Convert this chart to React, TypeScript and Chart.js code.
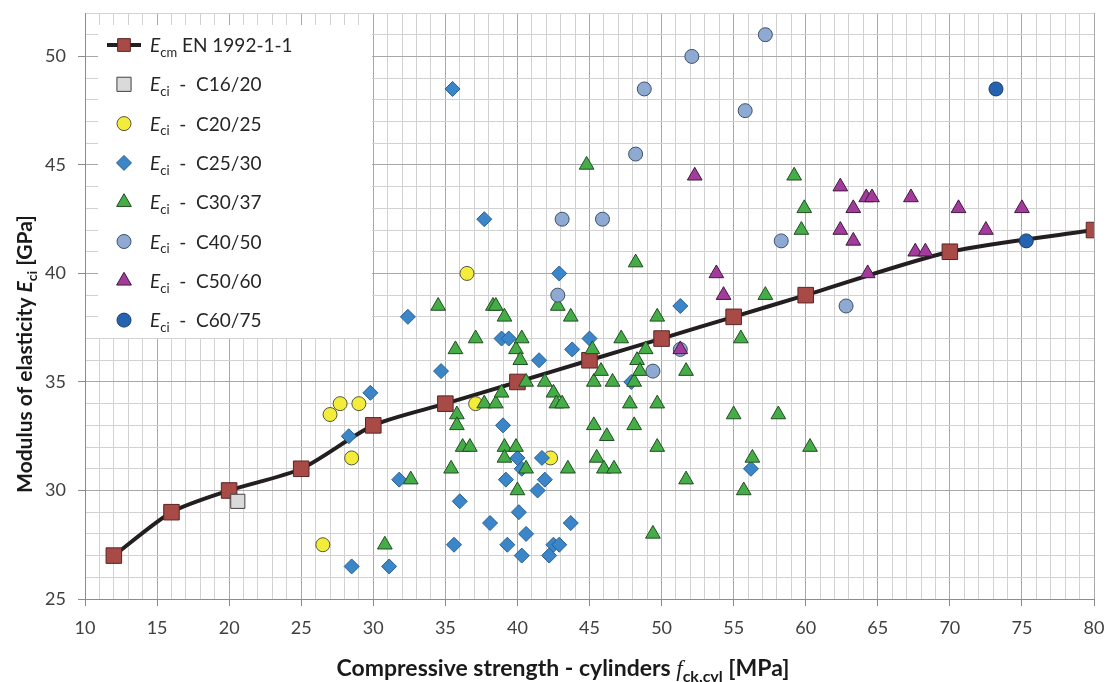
import React, { useEffect, useRef } from 'react';
import { Chart, registerables } from 'chart.js';

Chart.register(...registerables);

// ---------------- data ----------------
const xTickLabels = [10, 15, 20, 25, 30, 35, 40, 45, 50, 55, 60, 65, 70, 75, 80];
const yTickLabels = [25, 30, 35, 40, 45, 50];

const ecmX = [12, 16, 20, 25, 30, 35, 40, 45, 50, 55, 60, 70, 80];
const ecmY = [27, 29, 30, 31, 33, 34, 35, 36, 37, 38, 39, 41, 42];

const c1620X = [20.6];
const c1620Y = [29.5];

const c2025X = [26.5, 27.0, 27.7, 28.5, 29.0, 36.5, 37.1, 42.3];
const c2025Y = [27.5, 33.5, 34, 31.5, 34, 40, 34, 31.5];

const c2530X = [28.3, 28.5, 29.8, 31.1, 31.8, 32.4, 34.7, 35.5, 35.6, 36.0, 37.7, 38.1, 38.9, 39.0, 39.2, 39.3, 39.4, 40.0, 40.1, 40.3, 40.3, 40.6, 41.4, 41.5, 41.7, 41.9, 42.2, 42.5, 42.9, 42.9, 43.7, 43.8, 45.0, 47.9, 51.3, 56.2];
const c2530Y = [32.5, 26.5, 34.5, 26.5, 30.5, 38, 35.5, 48.5, 27.5, 29.5, 42.5, 28.5, 37, 33, 30.5, 27.5, 37, 31.5, 29, 31, 27, 28, 30, 36, 31.5, 30.5, 27, 27.5, 27.5, 40, 28.5, 36.5, 37, 35, 38.5, 31];

const c3037X = [30.8, 32.6, 34.5, 35.4, 35.7, 35.8, 35.8, 36.2, 36.7, 37.1, 37.7, 38.3, 38.5, 38.5, 38.9, 39.1, 39.1, 39.1, 39.9, 39.9, 40.0, 40.2, 40.3, 40.6, 40.6, 41.9, 42.5, 42.7, 42.8, 43.1, 43.5, 43.7, 44.8, 45.2, 45.3, 45.3, 45.5, 45.8, 46.0, 46.2, 46.6, 46.7, 47.2, 47.8, 48.1, 48.1, 48.2, 48.3, 48.5, 48.9, 49.4, 49.7, 49.7, 49.7, 51.7, 51.7, 55.0, 55.5, 55.7, 56.3, 57.2, 58.1, 59.2, 59.7, 59.9, 60.3];
const c3037Y = [27.5, 30.5, 38.5, 31, 36.5, 33.5, 33, 32, 32, 37, 34, 38.5, 38.5, 34, 34.5, 38, 32, 31.5, 36.5, 32, 30, 36, 37, 35, 31, 35, 34.5, 34, 38.5, 34, 31, 38, 45, 36.5, 35, 33, 31.5, 35.5, 31, 32.5, 35, 31, 37, 34, 35, 33, 40.5, 36, 35.5, 36.5, 28, 38, 34, 32, 35.5, 30.5, 33.5, 37, 30, 31.5, 39, 33.5, 44.5, 42, 43, 32];

const c4050X = [42.8, 43.1, 45.9, 48.2, 48.8, 49.4, 51.3, 52.1, 55.8, 57.2, 58.3, 62.8];
const c4050Y = [39, 42.5, 42.5, 45.5, 48.5, 35.5, 36.5, 50, 47.5, 51, 41.5, 38.5];

const c5060X = [51.3, 52.3, 53.8, 54.3, 62.4, 62.4, 63.3, 63.3, 64.2, 64.6, 64.3, 67.3, 67.6, 68.3, 70.6, 72.5, 75.0];
const c5060Y = [36.5, 44.5, 40, 39, 44, 42, 43, 41.5, 43.5, 43.5, 40, 43.5, 41, 41, 43, 42, 43];

const c6075X = [73.2, 75.3];
const c6075Y = [48.5, 41.5];

// ---------------- styling ----------------
const FONT = "Lato, 'Open Sans', sans-serif";
const SERIF = "'Liberation Serif', 'DejaVu Serif', serif";

type Seg = { t: string; i?: boolean; sub?: boolean; b?: boolean; fam?: string };

const series = [
  { key: 'ecm', label: [{ t: 'E', i: true }, { t: 'cm', sub: true }, { t: ' EN 1992-1-1' }] as Seg[], xs: ecmX, ys: ecmY, style: 'rect', r: 11, fill: '#a84a46', stroke: '#5a2624', line: true },
  { key: 'c1620', label: [{ t: 'E', i: true }, { t: 'ci', sub: true }, { t: '  -  C16/20' }] as Seg[], xs: c1620X, ys: c1620Y, style: 'rect', r: 10, fill: '#dadada', stroke: '#404040', line: false },
  { key: 'c2025', label: [{ t: 'E', i: true }, { t: 'ci', sub: true }, { t: '  -  C20/25' }] as Seg[], xs: c2025X, ys: c2025Y, style: 'circle', r: 7, fill: '#f3ec3a', stroke: '#55553a', line: false },
  { key: 'c2530', label: [{ t: 'E', i: true }, { t: 'ci', sub: true }, { t: '  -  C25/30' }] as Seg[], xs: c2530X, ys: c2530Y, style: 'rectRot', r: 7.5, fill: '#3a86c8', stroke: '#2b5f91', line: false },
  { key: 'c3037', label: [{ t: 'E', i: true }, { t: 'ci', sub: true }, { t: '  -  C30/37' }] as Seg[], xs: c3037X, ys: c3037Y, style: 'triangle', r: 8.5, fill: '#44ad47', stroke: '#234d22', line: false },
  { key: 'c4050', label: [{ t: 'E', i: true }, { t: 'ci', sub: true }, { t: '  -  C40/50' }] as Seg[], xs: c4050X, ys: c4050Y, style: 'circle', r: 7, fill: '#8eaad2', stroke: '#3f4f66', line: false },
  { key: 'c5060', label: [{ t: 'E', i: true }, { t: 'ci', sub: true }, { t: '  -  C50/60' }] as Seg[], xs: c5060X, ys: c5060Y, style: 'triangle', r: 8.5, fill: '#a33b9c', stroke: '#3f1a3d', line: false },
  { key: 'c6075', label: [{ t: 'E', i: true }, { t: 'ci', sub: true }, { t: '  -  C60/75' }] as Seg[], xs: c6075X, ys: c6075Y, style: 'circle', r: 7, fill: '#2563b0', stroke: '#183c6c', line: false },
];

function segFont(s: Seg, size: number, bold: boolean) {
  const sz = s.sub ? Math.round(size * 0.68) : size;
  const w = s.b ?? bold ? 'bold ' : '';
  const it = s.i ? 'italic ' : '';
  return `${it}${w}${sz}px ${s.fam || FONT}`;
}

function drawRich(ctx: CanvasRenderingContext2D, segs: Seg[], x: number, y: number, size: number, bold: boolean, align: 'left' | 'center', color: string) {
  ctx.save();
  ctx.fillStyle = color;
  ctx.textBaseline = 'alphabetic';
  ctx.textAlign = 'left';
  const widths = segs.map((s) => {
    ctx.font = segFont(s, size, bold);
    return ctx.measureText(s.t).width;
  });
  const total = widths.reduce((a, b) => a + b, 0);
  let cx = align === 'center' ? x - total / 2 : x;
  segs.forEach((s, i) => {
    ctx.font = segFont(s, size, bold);
    ctx.fillText(s.t, cx, y + (s.sub ? size * 0.25 : 0));
    cx += widths[i];
  });
  ctx.restore();
  return total;
}

function drawMarker(ctx: CanvasRenderingContext2D, style: string, x: number, y: number, r: number, fill: string, stroke: string) {
  ctx.save();
  ctx.beginPath();
  if (style === 'circle') {
    ctx.arc(x, y, r, 0, Math.PI * 2);
  } else if (style === 'rect') {
    const s = Math.SQRT1_2 * r;
    ctx.rect(x - s, y - s, 2 * s, 2 * s);
  } else if (style === 'rectRot') {
    ctx.moveTo(x - r, y);
    ctx.lineTo(x, y - r);
    ctx.lineTo(x + r, y);
    ctx.lineTo(x, y + r);
    ctx.closePath();
  } else if (style === 'triangle') {
    let rad = 0;
    ctx.moveTo(x + Math.sin(rad) * r, y - Math.cos(rad) * r);
    rad += (2 * Math.PI) / 3;
    ctx.lineTo(x + Math.sin(rad) * r, y - Math.cos(rad) * r);
    rad += (2 * Math.PI) / 3;
    ctx.lineTo(x + Math.sin(rad) * r, y - Math.cos(rad) * r);
    ctx.closePath();
  }
  ctx.fillStyle = fill;
  ctx.fill();
  ctx.lineWidth = 1;
  ctx.strokeStyle = stroke;
  ctx.stroke();
  ctx.restore();
}

const decorPlugin = {
  id: 'decor',
  beforeDatasetsDraw(chart: any) {
    const ctx: CanvasRenderingContext2D = chart.ctx;
    // legend box
    const lx = 98, ly = 25, lw = 274, lh = 313;
    ctx.save();
    ctx.fillStyle = '#ffffff';
    ctx.fillRect(lx, ly, lw, lh);
    ctx.restore();
    const rowH = 39.3;
    series.forEach((s, i) => {
      const cy = 45 + i * rowH;
      const mx = 124;
      if (s.line) {
        ctx.save();
        ctx.strokeStyle = '#231f20';
        ctx.lineWidth = 4;
        ctx.beginPath();
        ctx.moveTo(107, cy);
        ctx.lineTo(141, cy);
        ctx.stroke();
        ctx.restore();
      }
      drawMarker(ctx, s.style, mx, cy, s.line ? 9 : s.r, s.fill, s.stroke);
      drawRich(ctx, s.label, 150, cy + 7, 19, false, 'left', '#262626');
    });
  },
  afterDraw(chart: any) {
    const ctx: CanvasRenderingContext2D = chart.ctx;
    // x title
    drawRich(
      ctx,
      [{ t: 'Compressive strength - cylinders ' }, { t: 'f', i: true, b: false, fam: SERIF }, { t: 'ck,cyl', sub: true }, { t: ' [MPa]' }],
      563, 676, 23, true, 'center', '#1a1a1a'
    );
    // y title
    ctx.save();
    ctx.translate(32, 354);
    ctx.rotate(-Math.PI / 2);
    drawRich(
      ctx,
      [{ t: 'Modulus of elasticity ' }, { t: 'E', i: true }, { t: 'ci', sub: true }, { t: ' [GPa]' }],
      0, 0, 21, true, 'center', '#1a1a1a'
    );
    ctx.restore();
  },
};

const zeroPad = (sc: any) => {
  sc.paddingTop = 0;
  sc.paddingBottom = 0;
  sc.paddingLeft = 0;
  sc.paddingRight = 0;
};

export default function App() {
  const ref = useRef<HTMLCanvasElement | null>(null);

  useEffect(() => {
    if (!ref.current) return;
    const datasets = series.map((s, i) => ({
      label: s.key,
      data: s.xs.map((x, k) => ({ x, y: s.ys[k] })),
      showLine: s.line,
      borderColor: s.line ? '#231f20' : s.stroke,
      borderWidth: s.line ? 4 : 1,
      tension: s.line ? 0.25 : 0,
      pointStyle: s.style,
      pointRadius: s.r,
      pointBackgroundColor: s.fill,
      pointBorderColor: s.stroke,
      pointBorderWidth: 1,
      pointHoverRadius: s.r,
      order: series.length - i,
    }));

    const chart = new Chart(ref.current, {
      type: 'scatter',
      data: { datasets },
      options: {
        animation: false,
        responsive: false,
        events: [],
        layout: { padding: { left: 0, right: 13, top: 13, bottom: 0 } },
        plugins: { legend: { display: false }, tooltip: { enabled: false } },
        scales: {
          x: {
            type: 'linear',
            min: 10,
            max: 80,
            afterFit: (sc: any) => { sc.height = 83; zeroPad(sc); },
            ticks: {
              stepSize: 1,
              autoSkip: false,
              maxRotation: 0,
              padding: 11,
              color: '#404040',
              font: { family: FONT, size: 18 },
              callback: (v: any) => (xTickLabels.includes(Number(v)) ? String(v) : ''),
            },
            grid: {
              color: (c: any) => (xTickLabels.includes(c.tick?.value) ? '#a8a8a8' : '#d2d2d2'),
              tickColor: (c: any) => (xTickLabels.includes(c.tick?.value) ? '#8c8c8c' : 'rgba(0,0,0,0)'),
              tickLength: 7,
              lineWidth: 1,
            },
            border: { display: true, color: '#8c8c8c', width: 1 },
          },
          y: {
            type: 'linear',
            min: 25,
            max: 52,
            afterFit: (sc: any) => { sc.width = 85; zeroPad(sc); },
            ticks: {
              stepSize: 1,
              autoSkip: false,
              padding: 12,
              color: '#404040',
              font: { family: FONT, size: 18 },
              callback: (v: any) => (yTickLabels.includes(Number(v)) ? String(v) : ''),
            },
            grid: {
              color: (c: any) => (yTickLabels.includes(c.tick?.value) ? '#a8a8a8' : '#d2d2d2'),
              tickColor: (c: any) => (yTickLabels.includes(c.tick?.value) ? '#8c8c8c' : 'rgba(0,0,0,0)'),
              tickLength: 7,
              lineWidth: 1,
            },
            border: { display: true, color: '#8c8c8c', width: 1 },
          },
        },
      },
      plugins: [decorPlugin],
    } as any);

    return () => chart.destroy();
  }, []);

  return (
    <div style={{ position: 'fixed', left: 0, top: 0, width: 1107, height: 682, background: '#ffffff' }}>
      <canvas ref={ref} width={1107} height={682} style={{ display: 'block', width: 1107, height: 682 }} />
    </div>
  );
}
